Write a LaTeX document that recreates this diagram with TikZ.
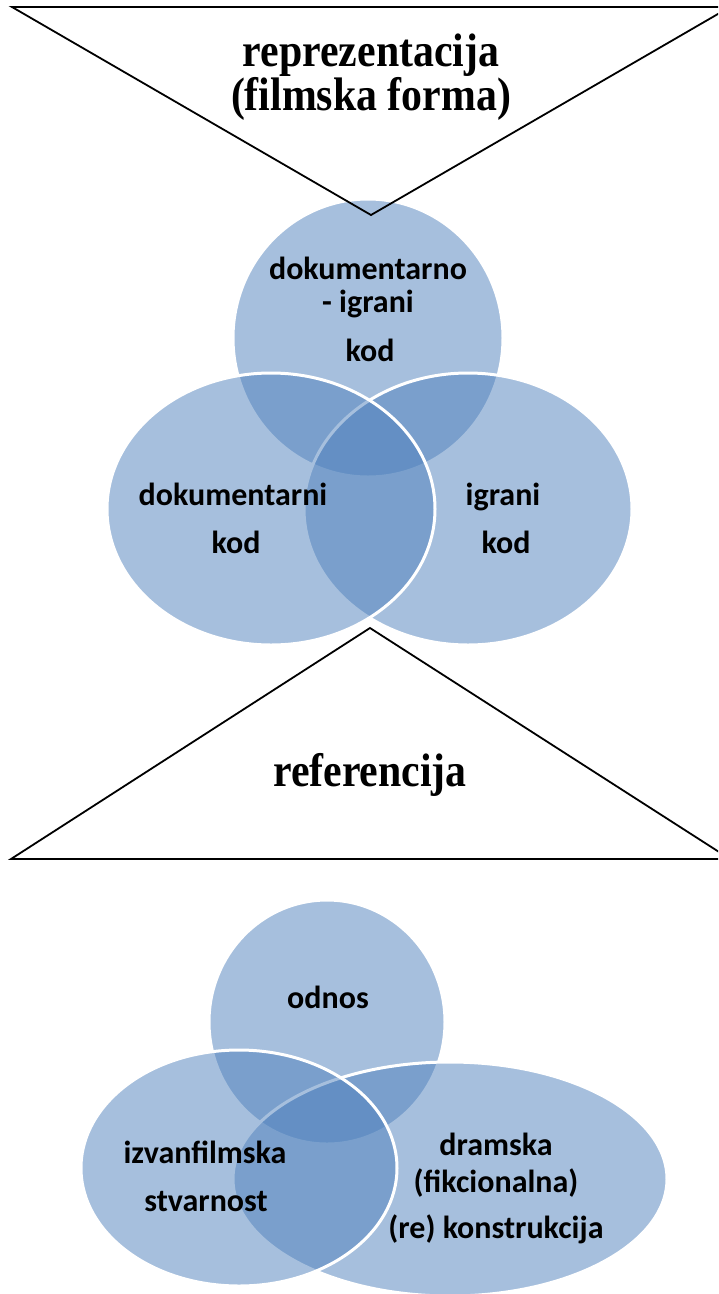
\documentclass[tikz,border=0pt]{standalone}
\usepackage{fontspec}
\setmainfont{Liberation Serif}
\newfontfamily\venfont{Carlito}
\definecolor{setblue}{HTML}{4F81BD}
\newcommand{\narrowhead}[1]{\scalebox{0.89}[1]{#1}}
\begin{document}
\begin{tikzpicture}[x=1pt,y=-1pt,
  setshape/.style={fill=setblue, fill opacity=0.5, draw=white, line width=3pt},
  venlabel/.style={anchor=base, inner sep=0pt, text=black,
    font=\venfont\bfseries\fontsize{32}{38}\selectfont},
  headlabel/.style={anchor=base, inner sep=0pt, text=black,
    font=\bfseries\fontsize{47}{52}\selectfont},
  trianglestroke/.style={draw=black, line width=1.8pt, line join=miter}]

\useasboundingbox (0,0) rectangle (718,1294);
\fill[white] (0,0) rectangle (718,1294);
\clip (0,0) rectangle (718,1294);

% upper three-set diagram: top, right, then left on top
\path[setshape] (368,338) ellipse [x radius=135pt, y radius=139pt];
\path[setshape] (468,509) ellipse [x radius=164pt, y radius=136pt];
\path[setshape] (271,509) ellipse [x radius=164pt, y radius=136pt];

\node[venlabel] (dig1) at (368,279) {dokumentarno};
\node[venlabel] (dig2) at (368,312) {- igrani};
\node[venlabel] (dig3) at (370,361) {kod};
\node[venlabel] (dok1) at (233,505) {dokumentarni};
\node[venlabel] (dok2) at (236,553) {kod};
\node[venlabel] (igr1) at (503,505) {igrani};
\node[venlabel] (igr2) at (506,553) {kod};

% upper (inverted) triangle
\draw[trianglestroke] (12,7) -- (730,7) -- (371,215) -- cycle;
\node[headlabel] (repr1) at (371,66) {\narrowhead{reprezentacija}};
\node[headlabel] (repr2) at (371,110) {\narrowhead{(filmska forma)}};

% lower triangle
\draw[trianglestroke] (370,628) -- (730,859) -- (11,859) -- cycle;
\node[headlabel] (ref) at (370,786) {\narrowhead{referencija}};

% lower three-set diagram
\path[setshape] (327,1022) ellipse [x radius=118pt, y radius=122pt];
\path[setshape] (450,1179) ellipse [x radius=217pt, y radius=117pt];
\path[setshape] (239,1168) ellipse [x radius=158pt, y radius=118pt];

\node[venlabel] (odnos) at (328,1008) {odnos};
\node[venlabel] (izv1) at (205,1163) {izvanfilmska};
\node[venlabel] (izv2) at (206,1211) {stvarnost};
\node[venlabel] (dra1) at (496,1155) {dramska};
\node[venlabel] (dra2) at (496,1192) {(fikcionalna)};
\node[venlabel] (dra3) at (496,1238) {(re) konstrukcija};

\end{tikzpicture}
\end{document}
